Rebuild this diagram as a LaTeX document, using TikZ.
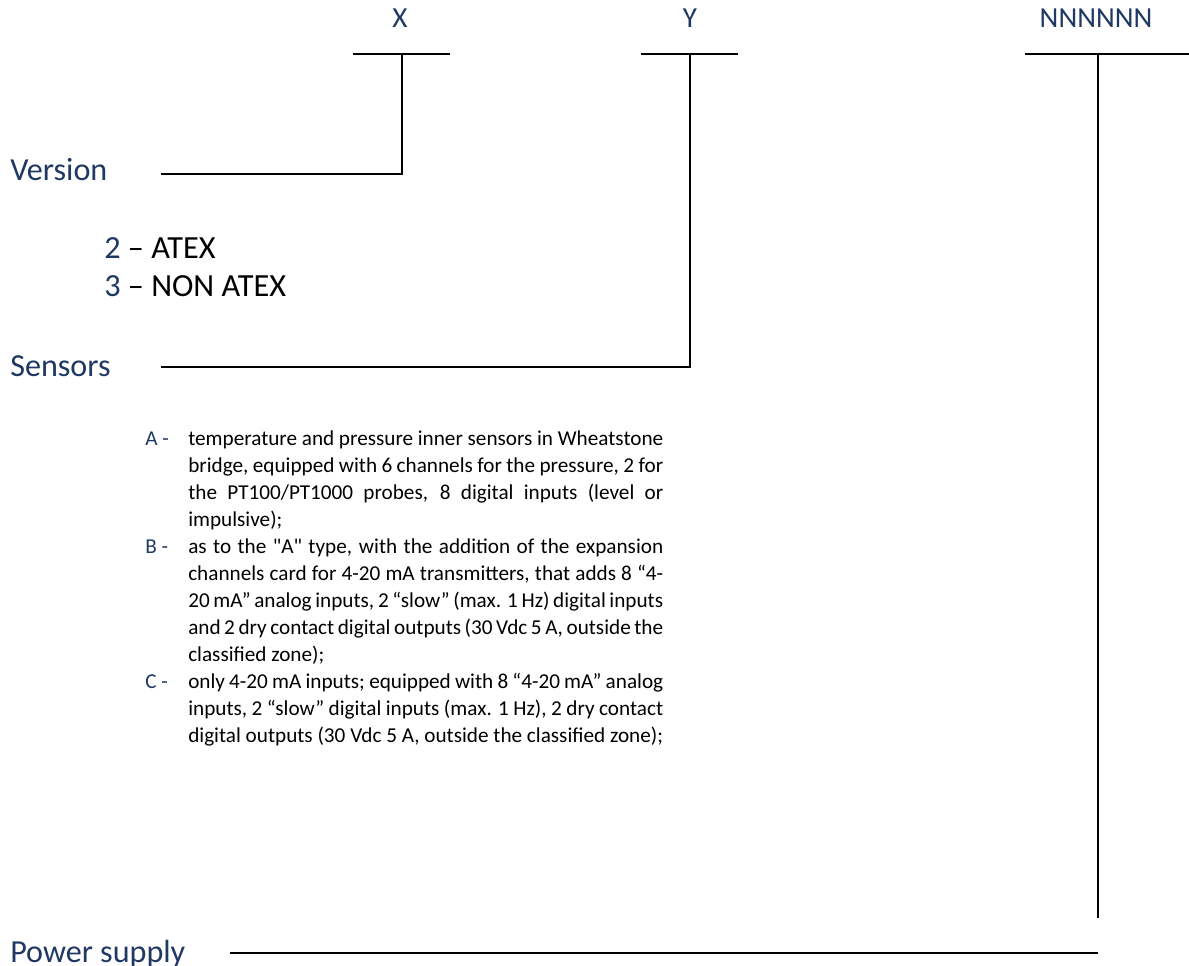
\documentclass[tikz,border=0pt]{standalone}
\usepackage{fontspec}
\setmainfont{Carlito}[Ligatures=TeXOff]
\definecolor{navy}{RGB}{31,56,100}
\newcommand\jline[1]{\makebox[356.25pt][s]{#1}}
\begin{document}
\begin{tikzpicture}[x=0.75pt,y=-0.75pt,
  conn/.style={line width=1.5pt, black},
  head/.style={anchor=base west, inner sep=0pt, text=navy, font=\fontsize{24.1}{28}\selectfont},
  code/.style={anchor=base, inner sep=0pt, text=navy, font=\fontsize{21.8}{25}\selectfont},
  opt/.style={anchor=base west, inner sep=0pt, font=\fontsize{24.2}{28}\selectfont},
  itemkey/.style={anchor=base west, inner sep=0pt, text=navy, font=\fontsize{15.9}{20}\selectfont},
  itemline/.style={anchor=base west, inner sep=0pt, font=\fontsize{15.9}{20}\selectfont}]
\useasboundingbox (0,0) rectangle (1189,966);

% code labels
\node[code] (X) at (400,28) {X};
\node[code] (Y) at (690,28) {Y};
\node[code] (N) at (1096,28) {NNNNNN};

% bars
\coordinate (xl) at (353,54); \coordinate (xr) at (450,54); \coordinate (xt) at (402,54);
\coordinate (yl) at (641,54); \coordinate (yr) at (738,54); \coordinate (yt) at (690,54);
\coordinate (nl) at (1025,54); \coordinate (nr) at (1189,54); \coordinate (nt) at (1098,54);
\draw[conn] (xl) -- (xr);
\draw[conn] (yl) -- (yr);
\draw[conn] (nl) -- (nr);

% headings
\node[head] (ver) at (10,181) {Version};
\node[head] (sen) at (10,376) {Sensors};
\node[head] (pow) at (10,962) {Power supply};

% connectors
\coordinate (vs) at (161,174); \coordinate (vc) at (402,174);
\coordinate (ss) at (161,367); \coordinate (sc) at (690,367);
\coordinate (ps) at (230,953); \coordinate (pe) at (1098,953);
\coordinate (nb) at (1098,918);
\draw[conn] (vs) -- (vc) -- (xt);
\draw[conn] (ss) -- (sc) -- (yt);
\draw[conn] (nt) -- (nb);
\draw[conn] (ps) -- (pe);

% version options
\node[opt] (v2) at (104,259) {\textcolor{navy}{2} – ATEX};
\node[opt] (v3) at (104,297) {\textcolor{navy}{3} – NON ATEX};

% sensor items
\node[itemkey] (ka) at (145,445) {A -};
\node[itemline] (a1) at (188,445) {\jline{temperature and pressure inner sensors in Wheatstone}};
\node[itemline] (a2) at (188,472) {\jline{bridge, equipped with 6 channels for the pressure, 2 for}};
\node[itemline] (a3) at (188,499) {\jline{the PT100/PT1000 probes, 8 digital inputs (level or}};
\node[itemline] (a4) at (188,526) {impulsive);};

\node[itemkey] (kb) at (145,553) {B -};
\node[itemline] (b1) at (188,553) {\jline{as to the "A" type, with the addition of the expansion}};
\node[itemline] (b2) at (188,580) {\jline{channels card for 4-20 mA transmitters, that adds 8 “4-}};
\node[itemline] (b3) at (188,607) {\jline{20 mA” analog inputs, 2 “slow” (max. 1 Hz) digital inputs}};
\node[itemline] (b4) at (188,634) {\jline{and 2 dry contact digital outputs (30 Vdc 5 A, outside the}};
\node[itemline] (b5) at (188,661) {classified zone);};

\node[itemkey] (kc) at (145,688) {C -};
\node[itemline] (c1) at (188,688) {\jline{only 4-20 mA inputs; equipped with 8 “4-20 mA” analog}};
\node[itemline] (c2) at (188,715) {\jline{inputs, 2 “slow” digital inputs (max. 1 Hz), 2 dry contact}};
\node[itemline] (c3) at (188,742) {digital outputs (30 Vdc 5 A, outside the classified zone);};
\end{tikzpicture}
\end{document}
